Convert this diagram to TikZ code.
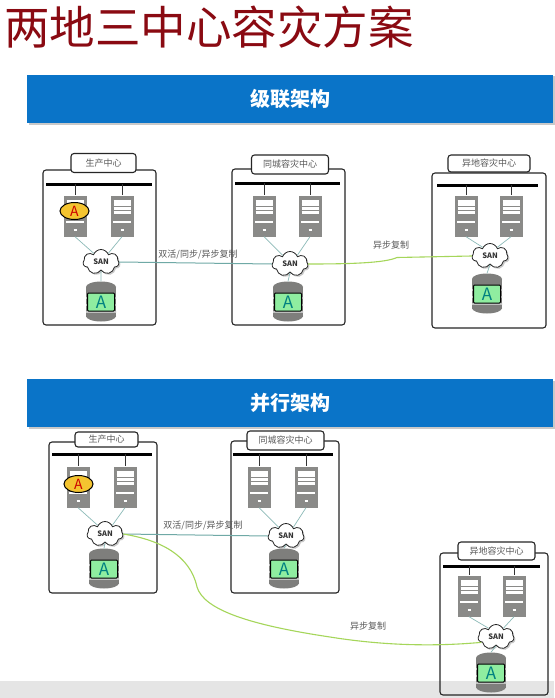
\documentclass[tikz,border=0pt]{standalone}
\usepackage{fontspec}
\setmainfont{Noto Sans CJK SC}
\usetikzlibrary{positioning}
\usetikzlibrary{shapes.geometric}
\usetikzlibrary{shapes.symbols}
\usetikzlibrary{shadows}

\definecolor{titlered}{HTML}{8A0A12}
\definecolor{bannerblue}{HTML}{0A74C8}
\definecolor{tealline}{HTML}{6FA9A6}
\definecolor{greenline}{HTML}{A5D65A}
\definecolor{servergray}{HTML}{8A8A88}
\definecolor{diskgray}{HTML}{7E7E7C}
\definecolor{diskgreen}{HTML}{8FEDA0}
\definecolor{badgeyellow}{HTML}{F4C430}

\tikzset{
  softshadow/.style={drop shadow={shadow xshift=1.5pt,shadow yshift=-1.5pt,opacity=.35,fill=black!60}},
  banner/.style={fill=bannerblue, text=white, minimum width=526pt, minimum height=48pt,
    inner sep=0pt, font=\fontsize{20}{20}\selectfont\bfseries, softshadow},
  sitebox/.style={draw=black!85, line width=1.1pt, rounded corners=3pt, inner sep=0pt},
  sitelabel/.style={draw=black!85, line width=1.1pt, fill=white, rounded corners=3pt, inner sep=0pt,
    minimum height=19pt, text=black!65, font=\fontsize{9}{9}\selectfont},
  sitebus/.style={fill=black, minimum height=3pt, inner sep=0pt},
  busline/.style={draw=black!80, line width=0.9pt},
  fineline/.style={draw=tealline!80, line width=0.7pt},
  linkteal/.style={draw=tealline, line width=1pt},
  linkgreen/.style={draw=greenline, line width=1.1pt},
  linktext/.style={inner sep=0pt, text=black!65, font=\fontsize{9}{9}\selectfont},
  serverunit/.style={fill=servergray, minimum width=23pt, minimum height=41pt, inner sep=0pt,
    path picture={
      \foreach \d in {15,11.2,7.4,3.6}
        \draw[white, line width=3pt] ([xshift=-8.5pt,yshift=\d pt]path picture bounding box.center)
          -- ([xshift=8.5pt,yshift=\d pt]path picture bounding box.center);
      \draw[white, line width=1.2pt] ([xshift=-9pt,yshift=-6pt]path picture bounding box.center)
        -- ([xshift=9pt,yshift=-6pt]path picture bounding box.center);
      \draw[white, line width=2.5pt] ([xshift=-1.5pt,yshift=-14pt]path picture bounding box.center)
        -- ([xshift=1.5pt,yshift=-14pt]path picture bounding box.center);
    }},
  appbadge/.style={ellipse, draw=black, line width=1pt, fill=badgeyellow, inner sep=0pt,
    minimum width=29pt, minimum height=17pt, text=red!80!black, font=\fontsize{14}{14}\selectfont},
  sancloud/.style={cloud, cloud puffs=7, cloud puff arc=140, aspect=1.5, draw=black!85, line width=0.8pt,
    fill=white, inner sep=0pt, minimum width=36pt, minimum height=25pt,
    text=black!80, font=\fontsize{7.5}{7.5}\selectfont\bfseries, softshadow},
  diskslab/.style={fill=diskgray, inner sep=0pt, minimum width=30pt, minimum height=30pt,
    path picture={
      \foreach \d in {-2,5,12}
        \draw[white!75!black, line width=1.3pt] ([xshift=-16pt,yshift=\d pt-8pt]path picture bounding box.center)
          -- ([xshift=16pt,yshift=\d pt-8pt]path picture bounding box.center);
    }},
  diskcap/.style={ellipse, fill=diskgray, inner sep=0pt, minimum width=30pt, minimum height=11pt},
  diskface/.style={draw=black, line width=1pt, fill=diskgreen, rounded corners=1pt, inner sep=0pt,
    minimum width=27pt, minimum height=18pt, text=teal, font=\fontsize{17}{17}\selectfont},
}

\newcommand{\serverat}[3]{\node[serverunit] (#1) at (#2,#3) {};}
\newcommand{\diskat}[3]{
  \node[diskcap] (#1base) at (#2,#3+14) {};
  \node[diskslab] (#1) at (#2,#3) {};
  \node[diskcap] (#1top) at (#2,#3-15) {};
  \node[diskface] (#1face) at (#2,#3) {A};
}
\newcommand{\sitewires}[1]{
  \draw[busline] (#1one.north |- #1bus) -- (#1one.north);
  \draw[busline] (#1two.north |- #1bus) -- (#1two.north);
  \draw[fineline] (#1one.south) -- (#1san.130);
  \draw[fineline] (#1two.south) -- (#1san.50);
  \draw[fineline] (#1san.south) -- (#1disktop.north);
}

\begin{document}
\begin{tikzpicture}[x=1pt,y=-1pt]
  \useasboundingbox (0,0) rectangle (554,698);
  \fill[white] (0,0) rectangle (554,698);
  \fill[black!10] (0,681) rectangle (554,698);

  \node[text=titlered, inner sep=0pt, font=\fontsize{45.5}{46}\selectfont] (title) at (209,27) {两地三中心容灾方案};
  \node[banner] (cascade) at (290,99) {级联架构};
  \node[banner] (parallel) at (290,403) {并行架构};

  % cascade, production
  \node[sitebox, minimum width=113pt, minimum height=155pt] (pabox) at (99.5,247.5) {};
  \node[sitelabel, minimum width=65pt] (palabel) at (103.5,163) {生产中心};
  \node[sitebus, minimum width=106pt] (pabus) at (99,184) {};
  \serverat{paone}{75}{216}
  \serverat{patwo}{122}{216}
  \node[appbadge] (pabadge) at (74.5,211) {A};
  \node[sancloud] (pasan) at (101,262) {SAN};
  \diskat{padisk}{101}{302}
  \sitewires{pa}

  % cascade, same city
  \node[sitebox, minimum width=113pt, minimum height=156pt] (cabox) at (288.5,247) {};
  \node[sitelabel, minimum width=77pt] (calabel) at (290,164.5) {同城容灾中心};
  \node[sitebus, minimum width=105pt] (cabus) at (287,183) {};
  \serverat{caone}{264}{216}
  \serverat{catwo}{310}{216}
  \node[sancloud] (casan) at (290,264) {SAN};
  \diskat{cadisk}{288}{302}
  \sitewires{ca}

  % cascade, remote
  \node[sitebox, minimum width=114pt, minimum height=155pt] (rabox) at (489,250.5) {};
  \node[sitelabel, minimum width=82pt, minimum height=17pt] (ralabel) at (489,163.5) {异地容灾中心};
  \node[sitebus, minimum width=101pt] (rabus) at (487.5,185) {};
  \serverat{raone}{466}{216}
  \serverat{ratwo}{511}{216}
  \node[sancloud] (rasan) at (490,256) {SAN};
  \diskat{radisk}{487}{294}
  \sitewires{ra}

  \draw[linkteal] (pasan.east) -- (casan.west);
  \node[linktext] (paca) at (198,255) {双活/同步/异步复制};
  \draw[linkgreen] (casan.east) .. controls (350,264) and (385,263) .. (397,257.5) -- (rasan.west);
  \node[linktext] (cara) at (391,245) {异步复制};

  % parallel, production
  \node[sitebox, minimum width=108pt, minimum height=151pt] (pbbox) at (103,517.5) {};
  \node[sitelabel, minimum width=63pt, minimum height=15pt] (pblabel) at (106.5,439.5) {生产中心};
  \node[sitebus, minimum width=100pt] (pbbus) at (102,454) {};
  \serverat{pbone}{78}{487}
  \serverat{pbtwo}{125}{487}
  \node[appbadge] (pbbadge) at (78.5,484) {A};
  \node[sancloud] (pbsan) at (105,534) {SAN};
  \diskat{pbdisk}{104}{569}
  \sitewires{pb}

  % parallel, same city
  \node[sitebox, minimum width=108pt, minimum height=152pt] (cbbox) at (285,517) {};
  \node[sitelabel, minimum width=77pt] (cblabel) at (285.5,440.5) {同城容灾中心};
  \node[sitebus, minimum width=100pt] (cbbus) at (283,454) {};
  \serverat{cbone}{259}{487}
  \serverat{cbtwo}{306}{487}
  \node[sancloud] (cbsan) at (286,536) {SAN};
  \diskat{cbdisk}{284}{569}
  \sitewires{cb}

  % parallel, remote
  \node[sitebox, minimum width=108pt, minimum height=142pt] (rbbox) at (494,624) {};
  \node[sitelabel, minimum width=77pt, minimum height=18pt] (rblabel) at (496.5,551) {异地容灾中心};
  \node[sitebus, minimum width=97pt] (rbbus) at (491.5,566) {};
  \serverat{rbone}{469}{596}
  \serverat{rbtwo}{514}{596}
  \node[sancloud] (rbsan) at (496,637) {SAN};
  \diskat{rbdisk}{491}{673}
  \sitewires{rb}

  \draw[linkteal] (pbsan.east) -- (cbsan.west);
  \node[linktext] (pbcb) at (203,526) {双活/同步/异步复制};
  \draw[linkgreen] (pbsan.east) .. controls (160,540) and (190,555) .. (197,587)
    .. controls (204,610) and (250,625) .. (330,637)
    .. controls (380,645) and (430,647) .. (rbsan.200);
  \node[linktext] (pbrb) at (368,626) {异步复制};
\end{tikzpicture}
\end{document}
